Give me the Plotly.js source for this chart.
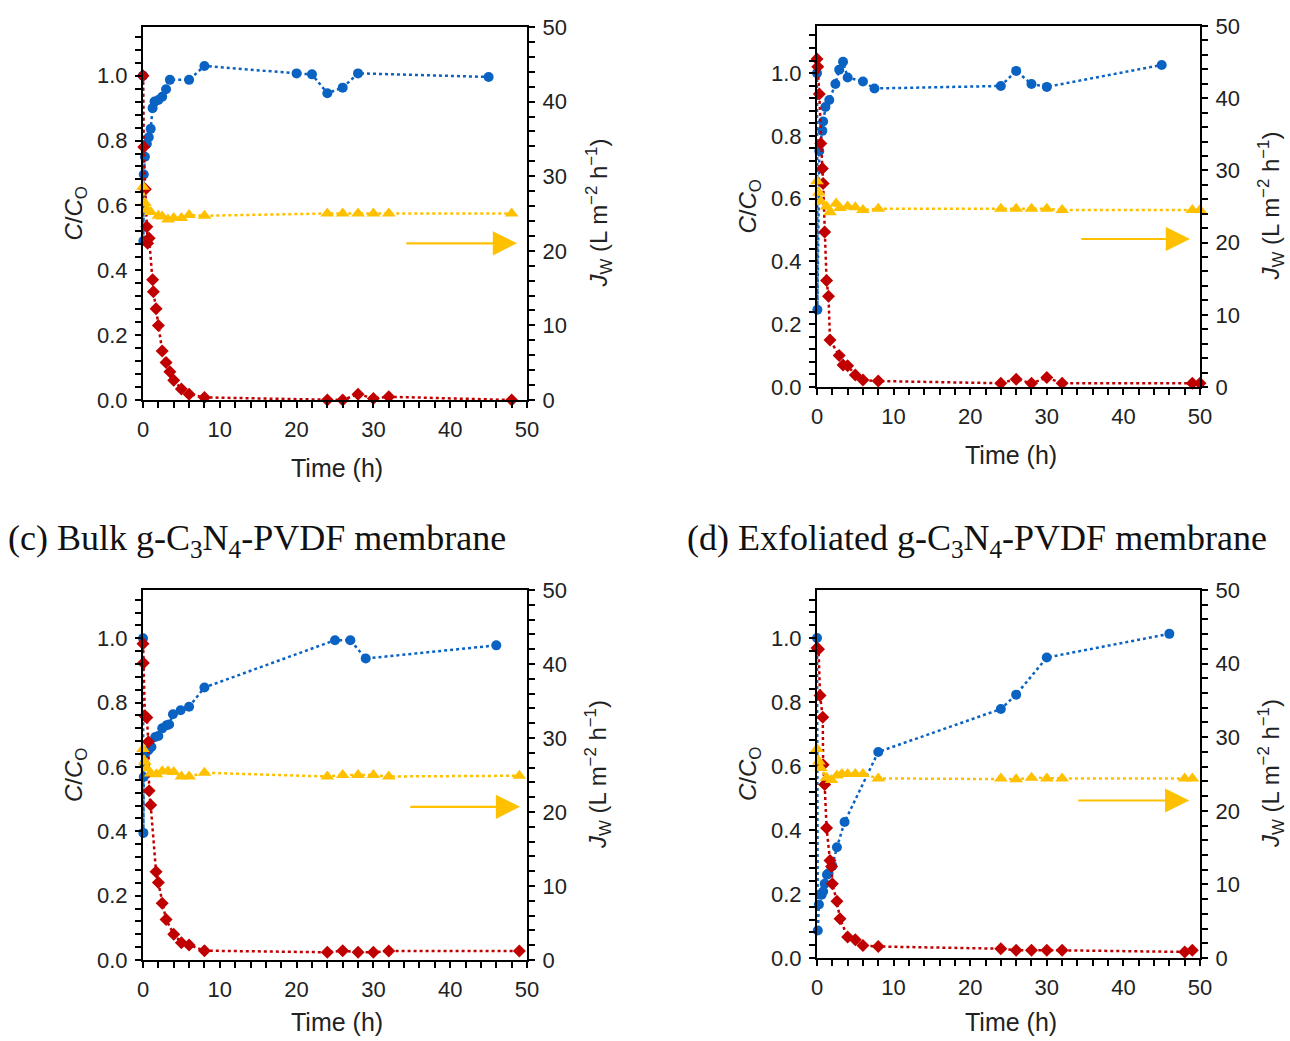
<!DOCTYPE html>
<html>
<head>
<meta charset="utf-8">
<script src="https://cdn.plot.ly/plotly-3.0.1.min.js"></script>
<style>html,body{margin:0;padding:0;background:#fff;}#chart{width:1290px;height:1041px;}</style>
</head>
<body>
<div id="chart"></div>
<script>
// ---------- Data (time in h, C/C0 on left axis, flux Jw on right axis) ----------
const xTicks = [0, 10, 20, 30, 40, 50];
const cTicks = [0, 0.2, 0.4, 0.6, 0.8, 1.0];
const jTicks = [0, 10, 20, 30, 40, 50];

// panel (a)
const a_blue_t = [0, 0.05, 0.1, 0.25, 0.5, 0.75, 1, 1.25, 1.5, 2, 2.5, 3, 3.5, 6, 8, 20, 22, 24, 26, 28, 45];
const a_blue_c = [1.0, 0.49, 0.695, 0.75, 0.79, 0.81, 0.836, 0.90, 0.92, 0.925, 0.935, 0.958, 0.987, 0.987, 1.03, 1.007, 1.004, 0.946, 0.963, 1.007, 0.996];
const a_red_t = [0, 0.1, 0.3, 0.5, 0.6, 0.8, 1.25, 1.35, 1.7, 2, 2.5, 3, 3.5, 4, 5, 6, 8, 24, 26, 28, 30, 32, 48];
const a_red_c = [1.0, 0.78, 0.65, 0.534, 0.483, 0.499, 0.371, 0.334, 0.281, 0.230, 0.151, 0.116, 0.087, 0.061, 0.034, 0.018, 0.008, 0.0, 0.0, 0.018, 0.005, 0.01, 0.0];
const a_yel_t = [0, 0.25, 0.5, 1, 2, 2.5, 3.25, 4, 5, 6, 8, 24, 26, 28, 30, 32, 48];
const a_yel_j = [28.6, 26.4, 25.5, 25.2, 24.7, 24.6, 24.2, 24.4, 24.4, 24.8, 24.7, 25.0, 25.0, 25.0, 25.0, 25.0, 25.0];

// panel (b)
const b_blue_t = [0, 0.05, 0.3, 0.7, 0.8, 1.1, 1.6, 2.4, 2.9, 3.4, 4, 6, 7.5, 24, 26, 28, 30, 45];
const b_blue_c = [1.0, 0.246, 0.752, 0.816, 0.846, 0.892, 0.914, 0.965, 1.011, 1.036, 0.986, 0.973, 0.951, 0.959, 1.007, 0.965, 0.956, 1.026];
const b_red_t = [0, 0.1, 0.3, 0.5, 0.7, 0.8, 1.0, 1.25, 1.5, 1.7, 2.9, 3.4, 4, 5, 6, 8, 24, 26, 28, 30, 32, 49, 50];
const b_red_c = [1.045, 1.02, 0.933, 0.776, 0.696, 0.648, 0.494, 0.339, 0.289, 0.150, 0.10, 0.070, 0.068, 0.038, 0.022, 0.019, 0.012, 0.025, 0.012, 0.030, 0.012, 0.012, 0.012];
const b_yel_t = [0, 0.25, 0.5, 1.25, 1.7, 2.5, 3, 4, 5, 6, 8, 24, 26, 28, 30, 32, 49, 50];
const b_yel_j = [28.5, 26.9, 25.7, 25.0, 24.2, 25.4, 24.8, 25.0, 24.9, 24.5, 24.7, 24.7, 24.7, 24.7, 24.7, 24.5, 24.5, 24.5];

// panel (c) Bulk g-C3N4-PVDF membrane
const c_blue_t = [0, 0.05, 0.1, 0.2, 0.3, 0.7, 1.1, 1.6, 2, 2.5, 3.1, 3.4, 3.9, 4.9, 6, 8, 25, 27, 29, 46];
const c_blue_c = [1.0, 0.395, 0.569, 0.61, 0.642, 0.652, 0.662, 0.693, 0.696, 0.72, 0.73, 0.732, 0.764, 0.776, 0.787, 0.847, 0.994, 0.994, 0.937, 0.978];
const c_red_t = [0, 0.05, 0.25, 0.5, 0.7, 0.8, 1.0, 1.7, 2, 2.5, 3, 4, 5, 6, 8, 24, 26, 28, 30, 32, 49];
const c_red_c = [0.983, 0.923, 0.758, 0.754, 0.678, 0.526, 0.482, 0.274, 0.241, 0.176, 0.126, 0.080, 0.054, 0.047, 0.029, 0.024, 0.029, 0.024, 0.024, 0.028, 0.028];
const c_yel_t = [0, 0.25, 0.5, 1, 1.75, 2.5, 3.25, 4, 5, 6, 8, 24, 26, 28, 30, 32, 49];
const c_yel_j = [28.5, 26.8, 25.9, 25.2, 25.1, 25.5, 25.5, 25.4, 24.8, 24.8, 25.3, 24.8, 25.0, 25.0, 25.0, 24.8, 24.9];

// panel (d) Exfoliated g-C3N4-PVDF membrane
const d_blue_t = [0, 0.1, 0.25, 0.6, 0.8, 1.0, 1.3, 1.5, 2, 2.6, 3.6, 8, 24, 26, 30, 46];
const d_blue_c = [1.0, 0.086, 0.167, 0.198, 0.208, 0.232, 0.26, 0.265, 0.288, 0.346, 0.425, 0.644, 0.778, 0.823, 0.939, 1.013];
const d_red_t = [0, 0.2, 0.4, 0.75, 0.8, 1.0, 1.25, 1.7, 1.9, 2, 2.6, 3, 4, 5, 6, 8, 24, 26, 28, 30, 32, 48, 49];
const d_red_c = [0.969, 0.965, 0.82, 0.752, 0.604, 0.542, 0.406, 0.305, 0.286, 0.232, 0.177, 0.123, 0.066, 0.057, 0.039, 0.036, 0.029, 0.024, 0.024, 0.024, 0.024, 0.019, 0.024];
const d_yel_t = [0, 0.25, 0.5, 1.25, 1.9, 2.6, 3.25, 4, 5, 6, 8, 24, 26, 28, 30, 32, 48, 49];
const d_yel_j = [28.4, 26.7, 25.8, 24.5, 24.2, 24.8, 25.0, 25.0, 25.0, 25.0, 24.4, 24.4, 24.3, 24.5, 24.4, 24.4, 24.4, 24.4];

const panelTitles = ['(c) Bulk g-C<sub>3</sub>N<sub>4</sub>-PVDF membrane', '(d) Exfoliated g-C<sub>3</sub>N<sub>4</sub>-PVDF membrane'];
const xTitle = 'Time (h)';
const yLeftTitle = '<i>C</i>/<i>C</i><sub>O</sub>';
const yRightTitle = '<i>J</i><sub>W</sub> (L m<sup>−2</sup> h<sup>−1</sup>)';

// ---------- Styles ----------
const BLUE = '#0a62c2', RED = '#c00000', YEL = '#ffc000';
const SANS = 'Liberation Sans, Arial, sans-serif';
const W = 1290, H = 1041;

// panel boxes in pixels: [left, right, top, bottom]
const boxes = [[143, 527, 27, 400], [817, 1200, 26, 387], [143, 527, 590, 960], [817, 1200, 590, 958]];
const xTitleOffset = [68, 68, 62, 64];
const panels = [
  {bt: a_blue_t, bc: a_blue_c, rt: a_red_t, rc: a_red_c, yt: a_yel_t, yj: a_yel_j, arrow: [34.1, 48.7, 21.0]},
  {bt: b_blue_t, bc: b_blue_c, rt: b_red_t, rc: b_red_c, yt: b_yel_t, yj: b_yel_j, arrow: [34.3, 48.7, 20.5]},
  {bt: c_blue_t, bc: c_blue_c, rt: c_red_t, rc: c_red_c, yt: c_yel_t, yj: c_yel_j, arrow: [34.6, 49.1, 20.7]},
  {bt: d_blue_t, bc: d_blue_c, rt: d_red_t, rc: d_red_c, yt: d_yel_t, yj: d_yel_j, arrow: [33.9, 48.6, 21.4]}
];

const traces = [];
const layout = {
  width: W, height: H, margin: {l: 0, r: 0, t: 0, b: 0},
  paper_bgcolor: '#fff', plot_bgcolor: 'rgba(0,0,0,0)',
  showlegend: false, font: {family: SANS, color: '#222'},
  annotations: []
};

const tickCommon = {
  ticks: 'outside', ticklen: 6, tickwidth: 2, tickcolor: '#000',
  showline: true, linewidth: 2, linecolor: '#000',
  showgrid: false, zeroline: false, ticklabelstandoff: 3,
  tickfont: {family: SANS, size: 22, color: '#222'}
};

panels.forEach((p, i) => {
  const [L, R, T, B] = boxes[i];
  const xd = [L / W, R / W], yd = [1 - B / H, 1 - T / H];
  const xn = i === 0 ? 'x' : 'x' + (i + 1);
  const yl = 'y' + (i === 0 ? '' : (2 * i + 1));
  const yr = 'y' + (2 * i + 2);
  const xkey = 'xaxis' + (i === 0 ? '' : (i + 1));
  const ylkey = 'yaxis' + (i === 0 ? '' : (2 * i + 1));
  const yrkey = 'yaxis' + (2 * i + 2);

  layout[xkey] = Object.assign({}, tickCommon, {
    domain: xd, anchor: yl, range: [0, 50], tickvals: xTicks, mirror: true,
    minor: {dtick: 2, tick0: 0, ticks: 'outside', ticklen: 6, tickwidth: 2, tickcolor: '#000'}
  });
  layout[ylkey] = Object.assign({}, tickCommon, {
    domain: yd, anchor: xn, range: [0, 1.15], tickvals: cTicks, tickformat: '.1f',
    minor: {dtick: 0.04, tick0: 0, ticks: 'outside', ticklen: 6, tickwidth: 2, tickcolor: '#000'}
  });
  layout[yrkey] = Object.assign({}, tickCommon, {
    overlaying: yl, side: 'right', anchor: xn, range: [0, 50], tickvals: jTicks,
    minor: {dtick: 2, tick0: 0, ticks: 'outside', ticklen: 6, tickwidth: 2, tickcolor: '#000'}
  });

  traces.push({x: p.yt, y: p.yj, xaxis: xn, yaxis: yr, type: 'scatter', mode: 'lines+markers',
    line: {color: YEL, width: 2.5, dash: 'dot'}, marker: {symbol: 'triangle-up', size: 12, color: YEL}, cliponaxis: false});
  traces.push({x: p.bt, y: p.bc, xaxis: xn, yaxis: yl, type: 'scatter', mode: 'lines+markers',
    line: {color: BLUE, width: 2.5, dash: 'dot'}, marker: {symbol: 'circle', size: 10, color: BLUE}, cliponaxis: false});
  traces.push({x: p.rt, y: p.rc, xaxis: xn, yaxis: yl, type: 'scatter', mode: 'lines+markers',
    line: {color: RED, width: 2.5, dash: 'dot'}, marker: {symbol: 'diamond', size: 10, color: RED}, cliponaxis: false});

  // arrow pointing to right axis
  layout.annotations.push({
    xref: xn, yref: yr, axref: xn, ayref: yr,
    x: p.arrow[1], y: p.arrow[2], ax: p.arrow[0], ay: p.arrow[2],
    text: '', showarrow: true, arrowhead: 2, arrowsize: 2.2, arrowwidth: 2.2, arrowcolor: YEL
  });

  // axis titles
  const midY = 1 - ((T + B) / 2) / H;
  layout.annotations.push({xref: 'paper', yref: 'paper', x: (L - 68) / W, y: midY, xanchor: 'center', yanchor: 'middle',
    text: yLeftTitle, textangle: -90, showarrow: false, font: {family: SANS, size: 24, color: '#222'}});
  layout.annotations.push({xref: 'paper', yref: 'paper', x: (R + 71) / W, y: midY, xanchor: 'center', yanchor: 'middle',
    text: yRightTitle, textangle: -90, showarrow: false, font: {family: SANS, size: 24, color: '#222'}});
  layout.annotations.push({xref: 'paper', yref: 'paper', x: ((L + R) / 2 + 2) / W, y: 1 - (B + xTitleOffset[i]) / H, xanchor: 'center', yanchor: 'middle',
    text: xTitle, showarrow: false, font: {family: SANS, size: 25, color: '#222'}});
});

// panel titles (c) and (d)
layout.annotations.push({xref: 'paper', yref: 'paper', x: 6 / W, y: 1 - 540 / H, xanchor: 'left', yanchor: 'middle',
  text: panelTitles[0], showarrow: false, font: {family: 'Liberation Serif, Times New Roman, serif', size: 36, color: '#111'}});
layout.annotations.push({xref: 'paper', yref: 'paper', x: 685 / W, y: 1 - 540 / H, xanchor: 'left', yanchor: 'middle',
  text: panelTitles[1], showarrow: false, font: {family: 'Liberation Serif, Times New Roman, serif', size: 36, color: '#111'}});

Plotly.newPlot('chart', traces, layout, {staticPlot: true, displayModeBar: false});
</script>
</body>
</html>
